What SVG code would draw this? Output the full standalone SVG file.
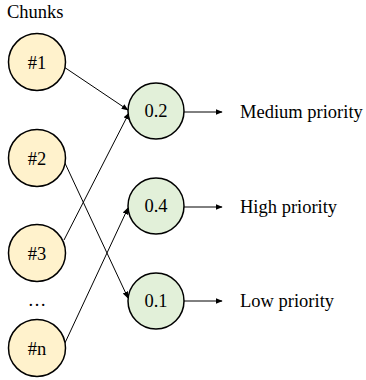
<svg xmlns="http://www.w3.org/2000/svg" width="366" height="380" viewBox="0 0 366 380">
<defs>
<style>
.c{stroke:#000;stroke-width:1.5}
.y{fill:#FFF2CC}
.g{fill:#E2F0D9}
.e{stroke:#000;stroke-width:1;fill:none}
</style>
<marker id="a" viewBox="0 0 10 10" refX="9" refY="5" markerWidth="7" markerHeight="7" orient="auto" markerUnits="userSpaceOnUse">
<path d="M0,1 L10,5 L0,9 Z" fill="#000"/>
</marker>
</defs>
<g id="connectors">
<line class="e" x1="64" y1="67" x2="128" y2="110" marker-end="url(#a)"/>
<line class="e" x1="64" y1="240" x2="129" y2="113" marker-end="url(#a)"/>
<line class="e" x1="64" y1="161" x2="128" y2="298" marker-end="url(#a)"/>
<line class="e" x1="64" y1="345" x2="128" y2="208" marker-end="url(#a)"/>
<line class="e" x1="184" y1="112" x2="222" y2="112" marker-end="url(#a)"/>
<line class="e" x1="184" y1="207" x2="222" y2="207" marker-end="url(#a)"/>
<line class="e" x1="184" y1="301" x2="222" y2="301" marker-end="url(#a)"/>
</g>
<g style="font-family:'Liberation Serif','Times New Roman',serif;font-size:18.5px" fill="#000">
<text x="7" y="18">Chunks</text>
<g id="n1"><circle class="c y" cx="37" cy="62" r="28.5"/><text x="37" y="69" text-anchor="middle">#1</text></g>
<g id="n2"><circle class="c y" cx="37" cy="158" r="28.5"/><text x="37" y="165" text-anchor="middle">#2</text></g>
<g id="n3"><circle class="c y" cx="37" cy="253" r="28.5"/><text x="37" y="260" text-anchor="middle">#3</text></g>
<text x="37" y="306" text-anchor="middle">…</text>
<g id="nn"><circle class="c y" cx="37" cy="348" r="28.5"/><text x="37" y="355" text-anchor="middle">#n</text></g>
<g id="p1"><circle class="c g" cx="156" cy="111" r="28"/><text x="156" y="117" text-anchor="middle">0.2</text></g>
<g id="p2"><circle class="c g" cx="156" cy="206" r="28"/><text x="156" y="212" text-anchor="middle">0.4</text></g>
<g id="p3"><circle class="c g" cx="156" cy="301" r="28"/><text x="156" y="307" text-anchor="middle">0.1</text></g>
<text x="240" y="118">Medium priority</text>
<text x="240" y="213">High priority</text>
<text x="240" y="307">Low priority</text>
</g>
</svg>
